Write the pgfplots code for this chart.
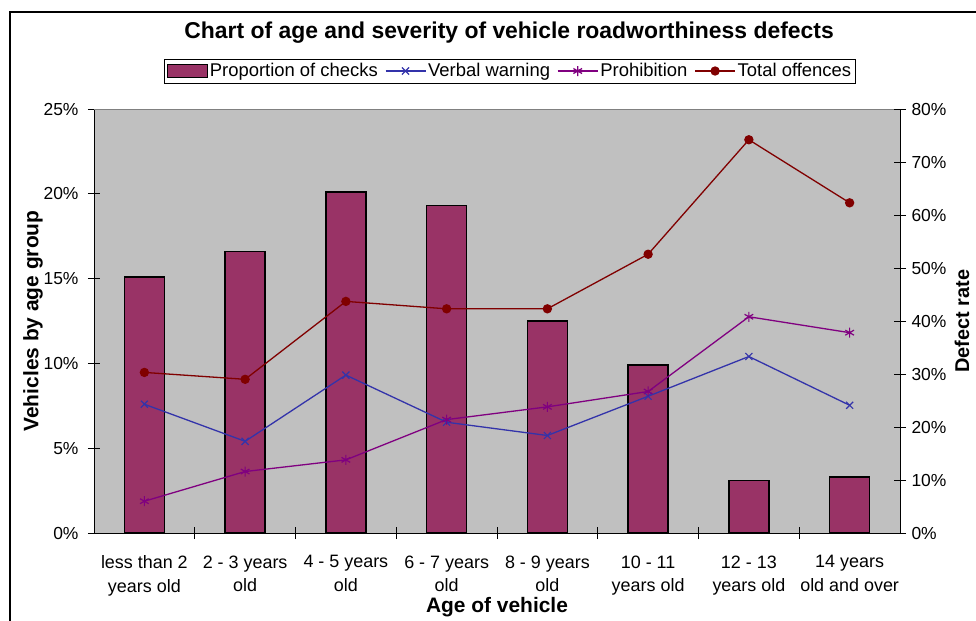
\documentclass[border=0pt]{standalone}
\usepackage{pgfplots}
\pgfplotsset{compat=1.18}
\usepackage{fontspec}
\setmainfont{Liberation Sans}

\definecolor{plotgray}{RGB}{192,192,192}
\definecolor{barplum}{RGB}{153,51,102}
\definecolor{warnblue}{RGB}{51,51,170}
\definecolor{prohib}{RGB}{128,0,128}
\definecolor{totred}{RGB}{128,0,0}

\pgfplotsset{
  common/.style={
    scale only axis, width=806bp, height=424bp,
    at={(94bp,-533bp)}, anchor=south west,
    xmin=-0.5, xmax=7.5,
    tick align=center, major tick length=12bp, minor tick length=12bp,
    every tick/.style={black, line width=0.8bp},
    axis line style={-, line width=1bp},
    /pgf/number format/assume math mode=true,
    yticklabel style={font=\fontsize{17.5}{21}\selectfont},
  },
  linestyle/.style={line width=1.3bp, mark options={solid, line width=1.2bp}},
  linelegend/.style={legend image code/.code={\draw[##1, mark repeat=2, mark phase=2] plot coordinates {(0bp,0bp) (20bp,0bp) (40bp,0bp)};}},
  barlegend/.style={legend image code/.code={\draw[fill=barplum, draw=black, line width=1.2bp] (0bp,-6.5bp) rectangle (40bp,6.5bp);}},
}

\begin{document}
\begin{tikzpicture}
\path[use as bounding box] (0,0) rectangle (976bp,-621bp);
\draw[line width=1.2bp] (10bp,-630bp) -- (10bp,-12bp) -- (990bp,-12bp);

\begin{axis}[common,
  axis background/.style={fill=plotgray},
  axis y line*=left, axis x line*=bottom,
  ymin=0, ymax=25, ytick={0,5,...,25},
  yticklabel={\pgfmathprintnumber{\tick}\%},
  yticklabel style={xshift=-6bp},
  xtick={0,...,7}, major x tick style={draw=none},
  minor xtick={0.5,1.5,...,6.5},
  xticklabels={{less than 2\\years old},{2 - 3 years\\old},{4 - 5 years\\old},{6 - 7 years\\old},{8 - 9 years\\old},{10 - 11\\years old},{12 - 13\\years old},{14 years\\old and over}},
  xticklabel style={align=center, font=\fontsize{18}{24}\selectfont, yshift=-13bp},
  xlabel={Age of vehicle},
  every axis x label/.style={at={(axis description cs:0.5,-0.1745)}, anchor=center, font=\bfseries\fontsize{21}{25}\selectfont},
  ylabel={Vehicles by age group},
  every axis y label/.style={at={(axis description cs:-0.0757,0.5)}, anchor=center, rotate=90, font=\bfseries\fontsize{21}{25}\selectfont},
  title={Chart of age and severity of vehicle roadworthiness defects},
  every axis title/.style={at={(axis description cs:0.515,1.179)}, anchor=center, font=\bfseries\fontsize{23}{27}\selectfont},
  legend style={at={(axis description cs:0.516,1.0896)}, anchor=center, legend columns=-1,
    draw=black, line width=0.8bp, font=\fontsize{18.5}{22}\selectfont, inner sep=2.5bp,
    /tikz/every even column/.append style={column sep=5bp}},
  legend cell align=left,
]
\addplot[ybar, bar width=40bp, fill=barplum, draw=black, line width=1.6bp, barlegend]
  coordinates {(0,15.1) (1,16.6) (2,20.1) (3,19.3) (4,12.5) (5,9.9) (6,3.1) (7,3.3)};
\addlegendentry{Proportion of checks}
\addlegendimage{warnblue, line width=1.3bp, mark=x, mark size=5bp, linelegend}
\addlegendentry{Verbal warning}
\addlegendimage{prohib, line width=1.3bp, mark=asterisk, mark size=5bp, linelegend}
\addlegendentry{Prohibition}
\addlegendimage{totred, line width=1.3bp, mark=*, mark size=4bp, linelegend}
\addlegendentry{Total offences}
\draw[gray, line width=1bp] (axis description cs:0,1) -- (axis description cs:1,1);
\end{axis}

\begin{axis}[common,
  axis y line*=right, axis x line=none,
  ymin=0, ymax=80, ytick={0,10,...,80},
  yticklabel={\pgfmathprintnumber{\tick}\%},
  yticklabel style={xshift=2bp},
  ylabel={Defect rate},
  every axis y label/.style={at={(axis description cs:1.077,0.5)}, anchor=center, rotate=90, font=\bfseries\fontsize{20}{24}\selectfont},
]
\addplot[warnblue, linestyle, mark=x, mark size=5bp]
  coordinates {(0,24.3) (1,17.3) (2,29.8) (3,20.9) (4,18.4) (5,25.8) (6,33.3) (7,24.1)};
\addplot[prohib, linestyle, mark=asterisk, mark size=5bp]
  coordinates {(0,6.0) (1,11.6) (2,13.8) (3,21.4) (4,23.8) (5,26.7) (6,40.8) (7,37.8)};
\addplot[totred, linestyle, mark=*, mark size=4bp, mark options={fill=totred}]
  coordinates {(0,30.3) (1,29.0) (2,43.7) (3,42.3) (4,42.3) (5,52.6) (6,74.2) (7,62.3)};
\end{axis}
\end{tikzpicture}
\end{document}
